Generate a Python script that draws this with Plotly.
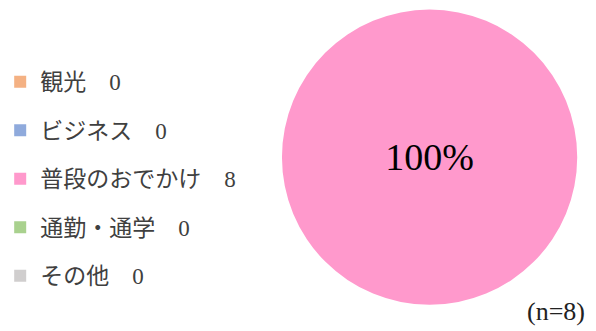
import plotly.graph_objects as go

# 目的別の回答数
labels = ["観光", "ビジネス", "普段のおでかけ", "通勤・通学", "その他"]
counts = [0, 0, 8, 0, 0]
colors = ["#F4B183", "#8FAADC", "#FF99CC", "#A9D18E", "#D0CECE"]
n_total = sum(counts)

# legend rows are spaced by the legend font size; the visible text is smaller
legend_labels = [
    f"<span style='font-size:23px;baseline-shift:5px'>{l}\u3000{c}</span>"
    for l, c in zip(labels, counts)
]

fig = go.Figure(go.Pie(
    labels=legend_labels,
    values=counts,
    marker=dict(colors=colors, line=dict(width=0)),
    sort=False,
    direction="clockwise",
    textinfo="percent",
    texttemplate="%{percent:.0%}",
    textposition="inside",
    insidetextorientation="horizontal",
    textfont=dict(size=38, color="black", family="Liberation Serif"),
    domain=dict(x=[0.465, 0.968], y=[0.072, 0.978]),
    hoverinfo="percent",
))

fig.add_annotation(
    text=f"(n={n_total})", x=0.985, y=0.008, xref="paper", yref="paper",
    xanchor="right", yanchor="bottom", showarrow=False,
    font=dict(size=26, color="#222222", family="Liberation Serif"),
)

fig.update_layout(
    width=596, height=331,
    margin=dict(l=0, r=0, t=0, b=0),
    paper_bgcolor="white",
    font=dict(family="Liberation Serif, Noto Sans CJK JP", color="#404040"),
    legend=dict(
        x=-0.015, y=0.459, xanchor="left", yanchor="middle",
        font=dict(size=35, color="#404040"),
        itemclick=False, itemdoubleclick=False,
    ),
)

fig.write_html("out.html", config={"displayModeBar": False},
               post_script="document.body.style.margin='0';")
